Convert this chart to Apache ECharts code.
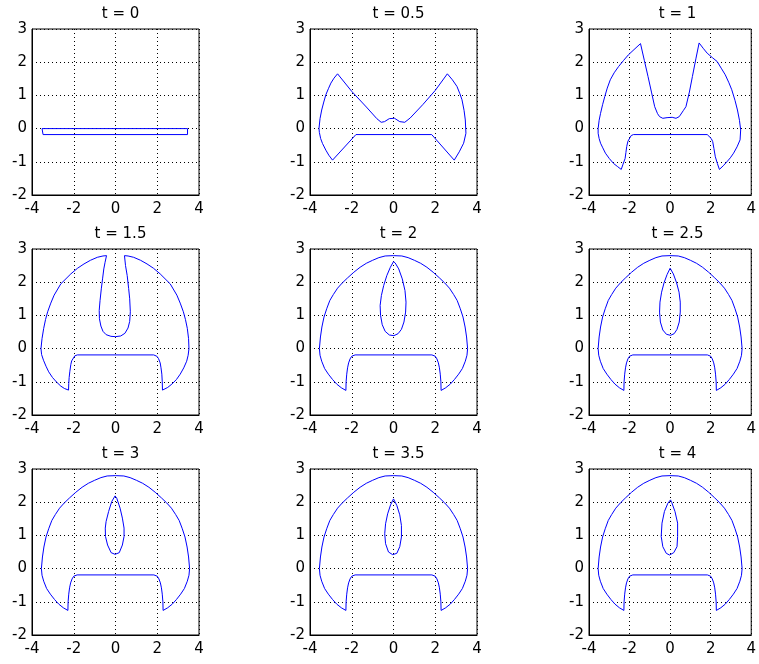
<!DOCTYPE html>
<html>
<head>
<meta charset="utf-8">
<script src="https://cdn.jsdelivr.net/npm/echarts@6/dist/echarts.min.js"></script>
<style>
  html, body { margin: 0; padding: 0; background: #ffffff; }
  #chart { width: 759px; height: 664px; }
</style>
</head>
<body>
<div id="chart"></div>
<script>
// Panel titles (time stamps of the evolving front)
const panelTitles = ['t = 0', 't = 0.5', 't = 1', 't = 1.5', 't = 2', 't = 2.5', 't = 3', 't = 3.5', 't = 4'];

// Axis ranges and tick steps shared by all panels
const xRange = [-4, 4];
const xStep = 2;
const yRange = [-2, 3];
const yStep = 1;

// Front contours, each a closed list of [x, y] points
const front_t0 = [[-3.52, 0], [3.45, 0], [3.45, -0.18], [-3.47, -0.18], [-3.52, 0]];

const front_t05 = [
  [-3.57, 0.0], [-3.52, 0.3], [-3.44, 0.56], [-3.34, 0.8], [-3.24, 1.02], [-3.12, 1.2], [-3.0, 1.37],
  [-2.85, 1.52], [-2.68, 1.65], [-2.0, 1.12], [-1.3, 0.65], [-0.8, 0.3], [-0.59, 0.19], [-0.43, 0.21],
  [-0.2, 0.3], [0.05, 0.31], [0.3, 0.21], [0.54, 0.19], [0.8, 0.32], [1.4, 0.72], [2.0, 1.15], [2.58, 1.65],
  [2.82, 1.47], [3.04, 1.27], [3.18, 1.05], [3.28, 0.87], [3.38, 0.55], [3.44, 0.26], [3.47, -0.14],
  [3.36, -0.44], [3.15, -0.7], [2.91, -0.95], [1.83, -0.18], [-1.8, -0.18], [-2.92, -0.95], [-3.1, -0.8],
  [-3.24, -0.65], [-3.4, -0.45], [-3.49, -0.3], [-3.55, -0.12], [-3.57, 0.0]
];

const front_t1 = [
  [-3.55, 0], [-3.5, 0.25], [-3.43, 0.46], [-3.33, 0.72], [-3.22, 0.97], [-3.1, 1.22], [-2.95, 1.47],
  [-2.76, 1.68], [-2.54, 1.87], [-2.3, 2.05], [-2.06, 2.22], [-1.78, 2.38], [-1.46, 2.56],
  [-1.27, 2.05], [-1.09, 1.57], [-0.92, 1.1], [-0.76, 0.66], [-0.62, 0.45], [-0.52, 0.36], [-0.36, 0.31],
  [-0.15, 0.33], [0.1, 0.34], [0.29, 0.31], [0.45, 0.36], [0.53, 0.41], [0.66, 0.55], [0.78, 0.66],
  [0.95, 1.1], [1.1, 1.57], [1.27, 2.1], [1.43, 2.58],
  [1.63, 2.42], [1.83, 2.27], [2.08, 2.14], [2.32, 2.02], [2.52, 1.82], [2.72, 1.62], [2.9, 1.38],
  [3.04, 1.17], [3.2, 0.85], [3.32, 0.56], [3.42, 0.25], [3.48, -0.04], [3.45, -0.34], [3.3, -0.55],
  [3.13, -0.74], [2.97, -0.88], [2.8, -1.0], [2.62, -1.12], [2.43, -1.23],
  [2.33, -1.05], [2.23, -0.85], [2.16, -0.6], [2.1, -0.39], [2.03, -0.3], [1.96, -0.24], [1.83, -0.18],
  [-1.81, -0.18], [-1.92, -0.21], [-2.0, -0.26], [-2.08, -0.38], [-2.14, -0.54], [-2.18, -0.72],
  [-2.22, -0.9], [-2.32, -1.07], [-2.41, -1.23],
  [-2.6, -1.14], [-2.79, -1.05], [-3.0, -0.9], [-3.19, -0.74], [-3.32, -0.58], [-3.43, -0.44],
  [-3.5, -0.3], [-3.55, -0.14], [-3.55, 0]
];

const front_t15 = [
  [-3.57, 0], [-3.52, 0.3], [-3.44, 0.61], [-3.35, 0.88], [-3.25, 1.11], [-3.1, 1.37], [-2.94, 1.61],
  [-2.62, 1.95], [-2.14, 2.25], [-1.82, 2.42], [-1.51, 2.55], [-1.2, 2.66], [-0.87, 2.75], [-0.6, 2.79],
  [-0.43, 2.8],
  [-0.5, 2.6], [-0.56, 2.4], [-0.62, 2.1], [-0.68, 1.8], [-0.74, 1.45], [-0.78, 1.15], [-0.77, 0.9],
  [-0.7, 0.68], [-0.6, 0.52], [-0.45, 0.42], [-0.22, 0.37], [0, 0.36], [0.25, 0.38], [0.45, 0.46],
  [0.6, 0.62], [0.68, 0.82], [0.71, 1.11], [0.68, 1.5], [0.63, 1.81], [0.56, 2.2], [0.48, 2.5], [0.43, 2.8],
  [0.6, 2.79], [0.87, 2.75], [1.2, 2.66], [1.51, 2.55], [1.82, 2.42], [2.14, 2.25], [2.62, 1.95],
  [2.94, 1.61], [3.1, 1.37], [3.25, 1.11], [3.35, 0.88], [3.44, 0.61], [3.5, 0.3], [3.52, 0],
  [3.48, -0.2], [3.41, -0.38], [3.27, -0.58], [3.1, -0.77], [2.92, -0.93], [2.7, -1.07], [2.5, -1.17],
  [2.25, -1.25],
  [2.24, -1.0], [2.22, -0.77], [2.18, -0.58], [2.14, -0.43], [2.06, -0.3], [1.98, -0.23], [1.83, -0.19],
  [-1.83, -0.19], [-1.95, -0.22], [-2.02, -0.26], [-2.1, -0.37], [-2.14, -0.48], [-2.19, -0.7],
  [-2.22, -0.87], [-2.24, -1.05], [-2.25, -1.25],
  [-2.45, -1.2], [-2.62, -1.13], [-2.82, -1.01], [-3.02, -0.87], [-3.2, -0.7], [-3.33, -0.53],
  [-3.45, -0.35], [-3.54, -0.18], [-3.57, 0]
];

// Outer dome, unchanged from t = 2 onward
const domeOuter = [
  [-3.55, 0], [-3.5, 0.35], [-3.43, 0.65], [-3.33, 0.95], [-3.2, 1.2], [-3.05, 1.45], [-2.88, 1.63],
  [-2.68, 1.82], [-2.45, 1.98], [-2.2, 2.13], [-1.9, 2.3], [-1.6, 2.45], [-1.3, 2.57], [-1.0, 2.66],
  [-0.7, 2.74], [-0.4, 2.79], [0, 2.8], [0.4, 2.79], [0.7, 2.74], [1.0, 2.66], [1.3, 2.57], [1.6, 2.45],
  [1.9, 2.3], [2.2, 2.13], [2.45, 1.98], [2.68, 1.82], [2.88, 1.63], [3.05, 1.45], [3.2, 1.2],
  [3.33, 0.95], [3.43, 0.65], [3.5, 0.35], [3.55, 0], [3.52, -0.2], [3.44, -0.38], [3.3, -0.6],
  [3.12, -0.77], [2.92, -0.93], [2.72, -1.07], [2.5, -1.18], [2.28, -1.26],
  [2.27, -1.0], [2.24, -0.77], [2.2, -0.58], [2.15, -0.43], [2.08, -0.31], [2.0, -0.23], [1.84, -0.19],
  [-1.84, -0.19], [-2.0, -0.23], [-2.08, -0.31], [-2.15, -0.43], [-2.2, -0.58], [-2.24, -0.77],
  [-2.27, -1.0], [-2.28, -1.26],
  [-2.5, -1.18], [-2.72, -1.07], [-2.92, -0.93], [-3.12, -0.77], [-3.3, -0.6], [-3.44, -0.38],
  [-3.52, -0.2], [-3.55, 0]
];

// Inner teardrops, shrinking with time
const inner_t2 = [
  [0, 2.62], [-0.15, 2.45], [-0.32, 2.2], [-0.47, 1.9], [-0.58, 1.6], [-0.64, 1.3], [-0.62, 1.0],
  [-0.54, 0.72], [-0.4, 0.52], [-0.2, 0.41], [0.02, 0.39], [0.22, 0.45], [0.38, 0.58], [0.5, 0.8],
  [0.58, 1.1], [0.6, 1.4], [0.55, 1.75], [0.42, 2.1], [0.25, 2.4], [0.08, 2.58], [0, 2.62]
];
const inner_t25 = [
  [0, 2.42], [-0.15, 2.23], [-0.3, 1.98], [-0.42, 1.7], [-0.5, 1.4], [-0.52, 1.1], [-0.48, 0.8],
  [-0.36, 0.56], [-0.18, 0.43], [0.02, 0.4], [0.2, 0.45], [0.34, 0.58], [0.45, 0.8], [0.5, 1.1],
  [0.5, 1.4], [0.44, 1.7], [0.32, 1.98], [0.16, 2.25], [0, 2.42]
];
const inner_t3 = [
  [-0.02, 2.19], [-0.18, 2.02], [-0.33, 1.72], [-0.45, 1.42], [-0.49, 1.22], [-0.48, 0.97], [-0.38, 0.71],
  [-0.21, 0.48], [-0.02, 0.43], [0.18, 0.48], [0.33, 0.71], [0.41, 0.97], [0.41, 1.22], [0.33, 1.52],
  [0.22, 1.82], [0.06, 2.12], [-0.02, 2.19]
];
const inner_t35 = [
  [0, 2.1], [-0.14, 1.92], [-0.28, 1.65], [-0.38, 1.35], [-0.42, 1.05], [-0.38, 0.75], [-0.24, 0.5],
  [-0.04, 0.42], [0.16, 0.46], [0.3, 0.66], [0.38, 0.95], [0.38, 1.3], [0.3, 1.62], [0.16, 1.9], [0, 2.1]
];
const inner_t4 = [
  [0.02, 2.07], [-0.11, 1.97], [-0.28, 1.72], [-0.4, 1.37], [-0.44, 0.97], [-0.36, 0.66], [-0.19, 0.46],
  [-0.03, 0.41], [0.18, 0.48], [0.34, 0.66], [0.37, 0.97], [0.37, 1.37], [0.24, 1.72], [0.08, 1.99],
  [0.02, 2.07]
];

// Loops drawn in each panel, row by row
const panelLoops = [
  [front_t0], [front_t05], [front_t1],
  [front_t15], [domeOuter, inner_t2], [domeOuter, inner_t25],
  [domeOuter, inner_t3], [domeOuter, inner_t35], [domeOuter, inner_t4]
];

// Panel placement in pixels
const colLeft = [32, 310, 589];
const rowTop = [29, 249, 469];
const boxW = 167;
const boxH = 166;

const FONT = 'DejaVu Sans, Verdana, sans-serif';
const FONT_SIZE = 15;

const grids = [], xAxes = [], yAxes = [], titles = [], series = [];
panelTitles.forEach((name, i) => {
  const c = i % 3, r = Math.floor(i / 3);
  grids.push({
    left: colLeft[c], top: rowTop[r], width: boxW, height: boxH,
    show: true, borderColor: '#000', borderWidth: 1, backgroundColor: '#fff'
  });
  titles.push({
    text: name,
    left: colLeft[c] + boxW / 2,
    top: rowTop[r] - 27,
    textAlign: 'center',
    textStyle: { fontFamily: FONT, fontSize: FONT_SIZE, fontWeight: 'normal', color: '#000' }
  });
  const splitStyle = { show: true, lineStyle: { color: '#000', width: 1, type: [1, 3] } };
  xAxes.push({
    gridIndex: i, type: 'value', min: xRange[0], max: xRange[1], interval: xStep,
    axisLine: { show: true, onZero: false, lineStyle: { color: '#000' } },
    axisTick: { show: false },
    axisLabel: { color: '#000', fontFamily: FONT, fontSize: FONT_SIZE, margin: 7 },
    splitLine: splitStyle
  });
  yAxes.push({
    gridIndex: i, type: 'value', min: yRange[0], max: yRange[1], interval: yStep,
    axisLine: { show: true, onZero: false, lineStyle: { color: '#000' } },
    axisTick: { show: false },
    axisLabel: { color: '#000', fontFamily: FONT, fontSize: FONT_SIZE, margin: 5 },
    splitLine: splitStyle
  });
  panelLoops[i].forEach(loop => {
    series.push({
      type: 'line', xAxisIndex: i, yAxisIndex: i, data: loop,
      showSymbol: false, symbol: 'none', smooth: false, silent: true,
      lineStyle: { color: '#0000ff', width: 1 }
    });
  });
});

const chart = echarts.init(document.getElementById('chart'), null, { renderer: 'canvas' });
chart.setOption({
  animation: false,
  backgroundColor: '#fff',
  title: titles,
  grid: grids,
  xAxis: xAxes,
  yAxis: yAxes,
  series: series
});
</script>
</body>
</html>
